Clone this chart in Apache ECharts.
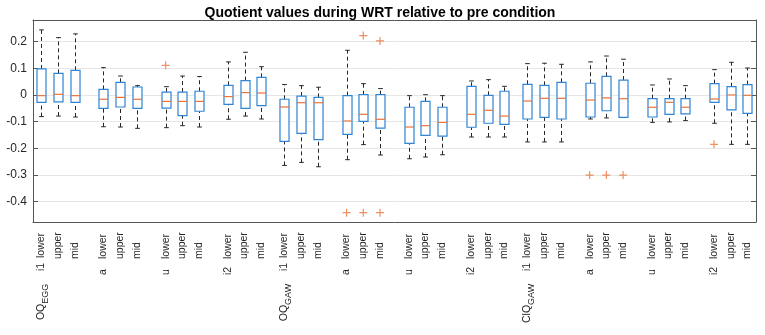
<!DOCTYPE html>
<html>
<head>
<meta charset="utf-8">
<script src="https://cdn.jsdelivr.net/npm/echarts@6/dist/echarts.min.js"></script>
<style>
html, body { margin: 0; padding: 0; background: #fff; }
#chart { width: 765px; height: 335px; }
</style>
</head>
<body>
<div id="chart"></div>
<script>
// grouping factors, box order is measure > vowel > place
var measures = ['OQ_EGG', 'OQ_GAW', 'ClQ_GAW'];
var vowels = ['i1', 'a', 'u', 'i2'];
var places = ['lower', 'upper', 'mid'];

var whiskerLow = [-0.081, -0.079, -0.0825, -0.119, -0.12, -0.125, -0.1225, -0.115, -0.12, -0.091, -0.079, -0.09,
    -0.264, -0.2525, -0.269, -0.2425, -0.186, -0.225, -0.239, -0.2325, -0.224, -0.1575, -0.1575, -0.1575,
    -0.176, -0.176, -0.176, -0.09, -0.086, -0.084, -0.1025, -0.101, -0.096, -0.106, -0.185, -0.185];
var quart1 = [-0.0275, -0.026, -0.0275, -0.05, -0.045, -0.05, -0.049, -0.0775, -0.061, -0.035, -0.05, -0.04,
    -0.174, -0.144, -0.1675, -0.1475, -0.099, -0.124, -0.181, -0.151, -0.154, -0.121, -0.106, -0.11,
    -0.09, -0.084, -0.09, -0.0825, -0.059, -0.084, -0.0825, -0.0725, -0.071, -0.0275, -0.056, -0.069];
var medians = [-0.0025, 0.0025, -0.0025, -0.016, -0.009, -0.016, -0.024, -0.024, -0.024, -0.006, 0.009, 0.0075,
    -0.045, -0.029, -0.029, -0.0975, -0.0725, -0.091, -0.12, -0.115, -0.1025, -0.0725, -0.0575, -0.079,
    -0.0225, -0.0125, -0.0125, -0.019, -0.011, -0.014, -0.046, -0.0275, -0.046, -0.015, 0, -0.00125];
var quart3 = [0.0975, 0.081, 0.0925, 0.021, 0.0475, 0.03, 0.011, 0.011, 0.014, 0.036, 0.054, 0.066,
    -0.016, -0.004, -0.009, -0.0025, 0.001, 0.001, -0.046, -0.024, -0.046, 0.0325, -0.00125, 0.014,
    0.04, 0.036, 0.0475, 0.044, 0.07, 0.056, -0.014, -0.014, -0.014, 0.0425, 0.031, 0.039];
var whiskerHigh = [0.244, 0.215, 0.229, 0.1025, 0.071, 0.035, 0.031, 0.071, 0.069, 0.124, 0.16, 0.106,
    0.039, 0.035, 0.029, 0.1675, 0.0425, 0.024, -0.0025, 0.001, -0.0025, 0.0525, 0.0575, 0.0325,
    0.1175, 0.119, 0.115, 0.124, 0.146, 0.134, 0.0375, 0.06, 0.035, 0.095, 0.1225, 0.101];
// [box index, value]
var outliers = [[6, 0.111], [15, -0.441], [16, 0.2225], [16, -0.441], [17, 0.2025], [17, -0.441],
    [27, -0.3], [28, -0.3], [29, -0.3], [33, -0.185]];
var yTicks = [-0.4, -0.3, -0.2, -0.1, 0, 0.1, 0.2];

// spacing of the boxes along x (one unit = distance between neighbour boxes)
var vowelStep = 3.72;
var measureStep = 3 * vowelStep + 3.38;

function boxPos(b) {
    var m = Math.floor(b / 12), v = Math.floor(b / 3) % 4, p = b % 3;
    return p + v * vowelStep + m * measureStep;
}

function measureRich(name) {
    var parts = name.split('_');
    return '{m|' + parts[0] + '}{s|' + parts[1] + '}';
}

function tickLabel(b) {
    var m = Math.floor(b / 12), v = Math.floor(b / 3) % 4, p = b % 3;
    var s = '';
    if (p === 0 && v === 0) s += measureRich(measures[m]) + '   ';
    if (p === 0) s += '{v|' + vowels[v] + '}';
    s += '{p|' + places[p] + '}';
    return s;
}

var positions = [];
var boxData = [];
for (var i = 0; i < medians.length; i++) {
    positions.push(boxPos(i));
    boxData.push([boxPos(i), whiskerLow[i], quart1[i], medians[i], quart3[i], whiskerHigh[i]]);
}
var outlierData = outliers.map(function (o) { return [boxPos(o[0]), o[1]]; });

var blue = '#2f84d3';
var orange = '#e8743b';
var dark = '#262626';

function renderBox(params, api) {
    var x = api.value(0);
    var lo = api.coord([x, api.value(1)]);
    var b1 = api.coord([x, api.value(2)]);
    var md = api.coord([x, api.value(3)]);
    var b3 = api.coord([x, api.value(4)]);
    var hi = api.coord([x, api.value(5)]);
    var unit = api.size([1, 0])[0];
    var half = unit * 0.27;
    var cap = unit * 0.14;
    var cx = Math.round(lo[0]) + 0.5;
    var whisk = { stroke: dark, lineWidth: 1, lineDash: [4, 3] };
    var solid = { stroke: dark, lineWidth: 1 };
    return {
        type: 'group',
        children: [
            { type: 'line', shape: { x1: cx, y1: lo[1], x2: cx, y2: b1[1] }, style: whisk },
            { type: 'line', shape: { x1: cx, y1: b3[1], x2: cx, y2: hi[1] }, style: whisk },
            { type: 'line', shape: { x1: cx - cap, y1: lo[1], x2: cx + cap, y2: lo[1] }, style: solid },
            { type: 'line', shape: { x1: cx - cap, y1: hi[1], x2: cx + cap, y2: hi[1] }, style: solid },
            { type: 'rect', shape: { x: cx - half, y: b3[1], width: half * 2, height: b1[1] - b3[1] },
                style: { fill: '#fff', stroke: blue, lineWidth: 1.2 } },
            { type: 'line', shape: { x1: cx - half, y1: md[1], x2: cx + half, y2: md[1] },
                style: { stroke: orange, lineWidth: 1.2 } }
        ]
    };
}

var chart = echarts.init(document.getElementById('chart'));
var option = {
    animation: false,
    textStyle: { fontFamily: 'Liberation Sans, Arial, sans-serif' },
    title: {
        text: 'Quotient values during WRT relative to pre condition',
        left: 375,
        textAlign: 'center',
        top: 1,
        textStyle: { fontSize: 14, fontWeight: 'bold', color: '#000', fontFamily: 'Liberation Sans, Arial, sans-serif' }
    },
    grid: { left: 33, right: 9, top: 20, bottom: 113 },
    xAxis: [{
        type: 'value',
        min: -0.496,
        max: 42.75,
        axisLine: { onZero: false, lineStyle: { color: '#555', width: 1 } },
        axisTick: { show: false },
        splitLine: { show: false },
        axisLabel: {
            customValues: positions,
            interval: 0,
            rotate: 90,
            margin: 10,
            fontSize: 10.5,
            color: dark,
            formatter: function (val) {
                var best = 0;
                for (var k = 1; k < positions.length; k++) {
                    if (Math.abs(positions[k] - val) < Math.abs(positions[best] - val)) best = k;
                }
                return tickLabel(best);
            },
            rich: {
                m: { fontSize: 10.5, color: dark },
                s: { fontSize: 9, color: dark, verticalAlign: 'bottom', padding: [9, 0, 0, 0] },
                v: { fontSize: 10.5, color: dark, width: 16, align: 'left' },
                p: { fontSize: 10.5, color: dark, width: 27, align: 'left' }
            }
        }
    }, {
        type: 'value',
        position: 'top',
        min: -0.496,
        max: 42.75,
        axisLine: { show: true, onZero: false, lineStyle: { color: '#555', width: 1 } },
        axisTick: { show: false },
        axisLabel: { show: false },
        splitLine: { show: false }
    }],
    yAxis: [{
        type: 'value',
        min: -0.476,
        max: 0.281,
        axisLine: { show: true, onZero: false, lineStyle: { color: '#555', width: 1 } },
        axisTick: { show: true, inside: true, length: 5, customValues: yTicks, lineStyle: { color: '#555' } },
        axisLabel: {
            customValues: yTicks,
            margin: 6,
            fontSize: 12,
            color: dark,
            formatter: function (v) { return String(+v.toFixed(1)); }
        },
        splitLine: { show: true, lineStyle: { color: '#e6e6e6', width: 1 } }
    }, {
        type: 'value',
        position: 'right',
        min: -0.476,
        max: 0.281,
        axisLine: { show: true, onZero: false, lineStyle: { color: '#555', width: 1 } },
        axisTick: { show: true, inside: true, length: 5, customValues: yTicks, lineStyle: { color: '#555' } },
        axisLabel: { show: false },
        splitLine: { show: false }
    }],
    series: [{
        type: 'custom',
        renderItem: renderBox,
        encode: { x: 0, y: [1, 2, 3, 4, 5] },
        data: boxData,
        z: 3
    }, {
        type: 'scatter',
        data: outlierData,
        symbol: 'path://M0,5L10,5M5,0L5,10',
        symbolSize: 8,
        itemStyle: { color: 'none', borderColor: orange, borderWidth: 1.2 },
        z: 4
    }]
};
chart.setOption(option);
</script>
</body>
</html>
